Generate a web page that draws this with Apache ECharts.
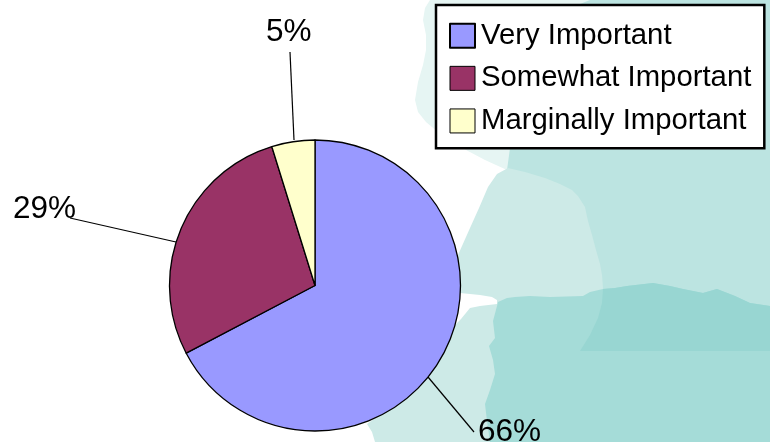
<!DOCTYPE html>
<html>
<head>
<meta charset="utf-8">
<script src="https://cdn.jsdelivr.net/npm/echarts@6/dist/echarts.min.js"></script>
<style>
  html, body { margin: 0; padding: 0; background: #fff; }
  #chart { width: 770px; height: 442px; }
</style>
</head>
<body>
<div id="chart"></div>
<script>
const categories = ['Very Important', 'Somewhat Important', 'Marginally Important']
// slice sizes as drawn; the printed labels do not quite agree with them
const sliceValues = [67.3, 27.9, 4.8]
const percentLabels = ['66%', '29%', '5%']
const sliceColors = ['#9999ff', '#993366', '#ffffcc']

// faded map behind the chart, drawn back to front
const mapShapes = [
  { fill: '#e6f5f3', points: [[430,0],[425,8],[423,20],[426,35],[426,50],[423,65],[418,82],[415,100],[418,112],[426,122],[438,132],[452,142],[468,151],[485,160],[507,170],[520,150],[600,0]] },
  { fill: '#bce4e1', points: [[590,0],[560,12],[530,60],[512,120],[510,148],[507,170],[520,240],[600,310],[770,310],[770,0]] },
  { fill: '#cdeae7', points: [[508,168],[497,174],[488,187],[479,208],[470,228],[458,255],[450,285],[460,293],[480,295],[492,297],[497,300],[497,304],[480,306],[470,308],[461,319],[450,330],[400,400],[367,424],[372,432],[375,442],[520,442],[520,300],[600,300],[603,288],[602,275],[600,264],[596,250],[592,235],[588,221],[585,207],[578,196],[572,190],[560,184],[545,178],[525,172]] },
  { fill: '#a5dcd8', points: [[497,306],[498,302],[507,298],[515,297],[530,296],[550,297],[583,296],[590,292],[603,289],[615,288],[627,286],[653,283],[670,286],[683,289],[703,293],[717,289],[735,296],[750,303],[770,306],[770,442],[490,442],[487,421],[485,404],[490,390],[495,374],[493,360],[489,346],[495,338],[493,321]] },
  { fill: '#98d6d2', points: [[603,289],[615,288],[627,286],[653,283],[670,286],[683,289],[703,293],[717,289],[735,296],[750,303],[770,306],[770,351],[580,351],[590,335],[598,318],[602,303]] }
]

// label anchor and leader line end for each slice
const labelSpots = [
  { x: 478, y: 432, line: [[428, 377], [474, 432]] },
  { x: 13, y: 209, line: [[176, 242], [70, 218]] },
  { x: 266, y: 32, line: [[294, 140], [290, 52]] }
]

let myChart = echarts.init(document.getElementById('chart'))

myChart.setOption({
  animation: false,
  backgroundColor: '#fff',
  graphic: mapShapes.map((s) => ({
    type: 'polygon',
    silent: true,
    z: 0,
    shape: { points: s.points },
    style: { fill: s.fill }
  })),
  legend: {
    orient: 'vertical',
    left: 436,
    top: 5,
    padding: [15, 13, 11.5, 13],
    itemWidth: 25,
    itemHeight: 24,
    itemGap: 11.1,
    icon: 'rect',
    selectedMode: false,
    backgroundColor: '#fff',
    borderColor: '#000',
    borderWidth: 2.5,
    borderRadius: 0,
    textStyle: {
      fontFamily: 'Liberation Sans',
      fontSize: 29.3,
      lineHeight: 25,
      color: '#000',
      padding: [6.5, 0, 0, 1]
    },
    data: categories.map((name, i) => ({
      name: name,
      itemStyle: { borderColor: '#000', borderWidth: i == 0 ? 2 : 1 }
    }))
  },
  series: [
    {
      type: 'pie',
      center: [315, 285.5],
      radius: 145.5,
      startAngle: 90,
      silent: true,
      itemStyle: { borderColor: '#000', borderWidth: 1.3 },
      label: {
        show: true,
        fontFamily: 'Liberation Sans',
        fontSize: 31.5,
        color: '#000',
        formatter: (p) => percentLabels[p.dataIndex]
      },
      labelLine: {
        show: true,
        lineStyle: { color: '#000', width: 1.2 }
      },
      labelLayout: (p) => ({
        x: labelSpots[p.dataIndex].x,
        y: labelSpots[p.dataIndex].y,
        align: 'left',
        verticalAlign: 'middle',
        labelLinePoints: labelSpots[p.dataIndex].line
      }),
      data: categories.map((name, i) => ({
        name: name,
        value: sliceValues[i],
        itemStyle: { color: sliceColors[i] }
      }))
    }
  ]
})
</script>
</body>
</html>
